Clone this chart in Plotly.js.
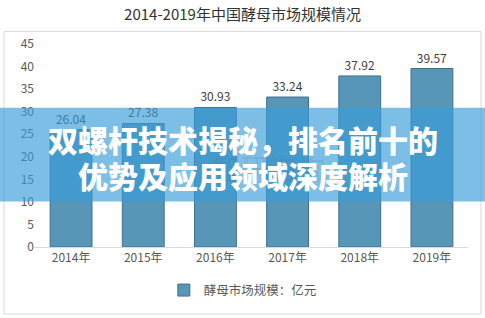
<!DOCTYPE html>
<html>
<head>
<meta charset="utf-8">
<script src="https://cdn.plot.ly/plotly-3.0.1.min.js"></script>
<style>html,body{margin:0;padding:0;background:#fff;}#chart{width:485px;height:318px;}</style>
</head>
<body>
<div id="chart"></div>
<script>
const years = ["2014年","2015年","2016年","2017年","2018年","2019年"];
const marketSize = [26.04, 27.38, 30.93, 33.24, 37.92, 39.57];
const seriesName = "酵母市场规模：亿元";
const chartTitle = "2014-2019年中国酵母市场规模情况";
const overlayLine1 = "双螺杆技术揭秘，排名前十的";
const overlayLine2 = "优势及应用领域深度解析";
const watermark = "智研咨询";

const CJK = '"Noto Sans CJK SC", "Microsoft YaHei", sans-serif';

const trace = {
  type: "bar",
  x: years,
  y: marketSize,
  name: seriesName,
  text: marketSize.map(v => v.toFixed(2)),
  textposition: "outside",
  textfont: {family: CJK, size: 12, color: "#404040"},
  cliponaxis: false,
  marker: {color: "#5896b8", line: {color: "#41708a", width: 1}},
  hoverinfo: "none"
};

const layout = {
  width: 485, height: 318,
  margin: {l: 35, r: 17, t: 44, b: 64},
  paper_bgcolor: "#ffffff",
  plot_bgcolor: "#ffffff",
  bargap: 0.42,
  title: {
    text: chartTitle,
    font: {family: CJK, size: 15, color: "#333333"},
    x: 0.5, xanchor: "center",
    y: 1 - 15/318, yanchor: "middle", yref: "container"
  },
  xaxis: {
    showline: true, linecolor: "#d9d9d9", linewidth: 1,
    ticks: "", showgrid: false, zeroline: false,
    tickfont: {family: CJK, size: 12, color: "#595959"},
    fixedrange: true
  },
  yaxis: {
    range: [0, 45], dtick: 5, showgrid: false, zeroline: false,
    showline: false, ticks: "",
    tickfont: {family: CJK, size: 12, color: "#595959"},
    fixedrange: true
  },
  showlegend: true,
  legend: {
    orientation: "h", x: 0.48, xanchor: "center",
    y: -0.214, yanchor: "middle",
    font: {family: CJK, size: 12.5, color: "#595959"},
    itemwidth: 30
  },
  shapes: [
    {type: "rect", xref: "paper", yref: "paper",
     x0: -0.0716, x1: 1.030, y0: -0.33, y1: 1.062,
     line: {color: "#d9d9d9", width: 1}, fillcolor: "rgba(0,0,0,0)", layer: "below"},
    {type: "rect", xref: "paper", yref: "paper",
     x0: -0.1, x1: 1.1, y0: (254-207)/210, y1: (254-110)/210,
     line: {width: 0}, fillcolor: "rgba(56,156,216,0.66)", layer: "above"}
  ],
  annotations: [
    {text: watermark, xref: "paper", yref: "paper", x: 0.54, y: (254-172)/210,
     showarrow: false, font: {family: CJK, size: 28, color: "rgba(90,90,90,0.15)"}},
    {text: overlayLine1, xref: "paper", yref: "paper", x: (243-35)/433, y: (254-142)/210,
     xanchor: "center", yanchor: "middle", showarrow: false,
     font: {family: CJK, size: 30, color: "#ffffff", weight: 900}},
    {text: overlayLine2, xref: "paper", yref: "paper", x: (243-35)/433, y: (254-179)/210,
     xanchor: "center", yanchor: "middle", showarrow: false,
     font: {family: CJK, size: 30, color: "#ffffff", weight: 900}}
  ]
};

Plotly.newPlot("chart", [trace], layout, {displayModeBar: false, staticPlot: true});
</script>
</body>
</html>
